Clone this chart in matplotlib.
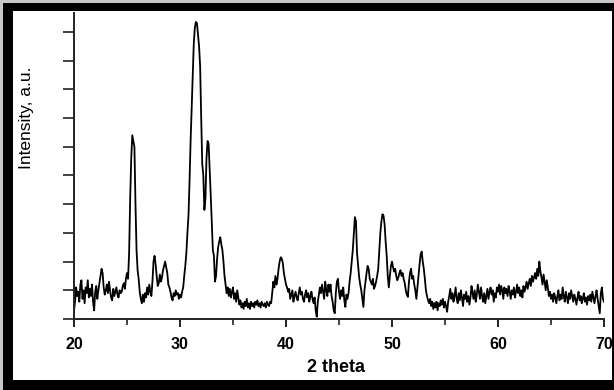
#! /usr/bin/env python3

import numpy as np
import matplotlib.pyplot as plt
from matplotlib.patches import Rectangle


# XRD pattern, intensity every 0.1 degree from 20 to 70.
intensity = [
    30, 60, 110, 80, 95, 60, 120, 135, 70, 100,            # 20.0
    55, 110, 90, 135, 75, 105, 80, 120, 60, 30,            # 21.0
    95, 115, 70, 100, 125, 150, 175, 160, 110, 85,         # 22.0
    100, 120, 90, 130, 100, 75, 65, 105, 80, 95,           # 23.0
    110, 85, 75, 100, 90, 95, 115, 125, 105, 140,          # 24.0
    160, 140, 230, 420, 560, 640, 620, 600, 400, 240,      # 25.0
    170, 140, 95, 70, 55, 85, 60, 90, 75, 110,             # 26.0
    85, 120, 95, 80, 130, 200, 220, 190, 150, 115,         # 27.0
    125, 155, 130, 145, 170, 185, 200, 180, 160, 120,      # 28.0
    110, 95, 75, 65, 90, 80, 100, 85, 90, 70,              # 29.0
    85, 75, 95, 110, 150, 185, 230, 300, 360, 480,         # 30.0
    620, 730, 850, 960, 1015, 1035, 1030, 990, 950, 880,   # 31.0
    700, 540, 500, 380, 420, 560, 620, 610, 520, 430,      # 32.0
    330, 240, 220, 130, 150, 210, 250, 270, 285, 260,      # 33.0
    240, 200, 150, 120, 90, 110, 80, 105, 75, 95,          # 34.0
    110, 70, 90, 60, 100, 75, 50, 65, 40, 55,              # 35.0
    35, 60, 45, 70, 40, 55, 35, 60, 45, 55,                # 36.0
    40, 60, 50, 65, 45, 55, 40, 60, 50, 45,                # 37.0
    55, 40, 60, 50, 45, 60, 55, 90, 130, 110,              # 38.0
    150, 120, 140, 175, 200, 215, 210, 195, 160, 140,      # 39.0
    120, 110, 95, 105, 70, 85, 100, 60, 80, 95,            # 40.0
    75, 65, 90, 110, 85, 95, 70, 60, 85, 100,              # 41.0
    75, 90, 60, 80, 95, 70, 55, 75, 30, 8,                 # 42.0
    60, 85, 110, 90, 120, 95, 70, 130, 100, 80,            # 43.0
    120, 95, 120, 80, 60, 30, 20, 90, 130, 140,            # 44.0
    95, 70, 100, 80, 110, 65, 42, 85, 70, 90,              # 45.0
    130, 160, 200, 240, 300, 355, 340, 230, 190, 146,      # 46.0
    120, 100, 70, 42, 100, 130, 160, 185, 175, 140,        # 47.0
    130, 120, 140, 105, 115, 130, 150, 175, 240, 300,      # 48.0
    340, 365, 360, 330, 270, 220, 150, 110, 150, 185,      # 49.0
    200, 180, 165, 175, 150, 135, 145, 160, 170, 150,      # 50.0
    160, 140, 125, 100, 85, 77, 130, 160, 175, 140,        # 51.0
    150, 120, 100, 70, 110, 150, 190, 225, 235, 200,       # 52.0
    175, 140, 100, 80, 65, 55, 70, 45, 60, 35,             # 53.0
    55, 40, 60, 30, 55, 45, 65, 50, 70, 40,                # 54.0
    60, 45, 25, 60, 80, 105, 70, 90, 60, 80,               # 55.0
    110, 70, 55, 90, 65, 100, 75, 45, 85, 70,              # 56.0
    95, 60, 80, 50, 75, 115, 90, 70, 100, 60,              # 57.0
    85, 120, 95, 70, 110, 80, 60, 90, 55, 80,              # 58.0
    105, 70, 95, 110, 85, 100, 60, 90, 75, 110,            # 59.0
    95, 120, 85, 115, 100, 70, 110, 90, 105, 80,           # 60.0
    115, 95, 70, 100, 85, 110, 75, 95, 120, 90,            # 61.0
    110, 80, 100, 75, 115, 95, 110, 130, 105, 125,         # 62.0
    140, 115, 150, 130, 145, 160, 140, 175, 150, 200,      # 63.0
    165, 145, 120, 155, 130, 100, 135, 110, 80, 95,        # 64.0
    70, 85, 60, 90, 75, 55, 80, 100, 65, 85,               # 65.0
    70, 110, 80, 60, 95, 75, 55, 90, 70, 100,              # 66.0
    80, 60, 85, 70, 50, 75, 95, 65, 80, 55,                # 67.0
    70, 90, 60, 75, 50, 80, 65, 85, 60, 95,                # 68.0
    75, 55, 80, 100, 70, 45, 20, 90, 110, 70,              # 69.0
    60,                                                    # 70.0
]
two_theta = np.linspace(20, 70, len(intensity))

x_major = [20, 30, 40, 50, 60, 70]
x_minor = [25, 35, 45, 55, 65]
y_ticks = [0, 100, 200, 300, 400, 500, 600, 700, 800, 900, 1000]


fig = plt.figure(figsize=(6.14, 3.90), dpi=100, facecolor="#c8c8c8")

# Black frame with white panel, like the scanned figure.
fig.add_artist(Rectangle((3 / 614, 0), 611 / 614, 387 / 390,
                         transform=fig.transFigure, facecolor="black",
                         edgecolor="none", zorder=-3))
fig.add_artist(Rectangle((13 / 614, 10 / 390), 599 / 614, 369 / 390,
                         transform=fig.transFigure, facecolor="white",
                         edgecolor="none", zorder=-2))

ax = fig.add_axes([74 / 614, 71 / 390, 530 / 614, 306 / 390])
ax.set_facecolor("none")
ax.plot(two_theta, intensity, color="black", lw=1.3)

ax.set_xlim(20, 70)
ax.set_ylim(0, 1066)
ax.set_xticks(x_major)
ax.set_xticks(x_minor, minor=True)
ax.set_yticks(y_ticks)
ax.set_yticklabels([])

for side in ["top", "right"]:
    ax.spines[side].set_visible(False)
for side in ["left", "bottom"]:
    ax.spines[side].set_linewidth(1.4)
    ax.spines[side].set_color("#222222")

ax.tick_params(axis="x", which="major", direction="out", length=6,
               width=1.4, color="#222222", pad=7)
ax.tick_params(axis="x", which="minor", direction="out", length=4,
               width=1.2, color="#222222")
ax.tick_params(axis="y", direction="out", length=8, width=1.2,
               color="#222222")
for lab in ax.get_xticklabels():
    lab.set_fontfamily("Liberation Sans")
    lab.set_fontweight("bold")
    lab.set_fontsize(11.5)

fig.text(336 / 614, 1 - 368 / 390, "2 theta", ha="center", va="center",
         fontsize=13, fontweight="bold", family="Liberation Sans")
fig.text(27 / 614, 1 - 118 / 390, "Intensity, a.u.", ha="center",
         va="center", rotation=90, fontsize=12.5, family="Liberation Sans")

fig.savefig("out.png", dpi=100, facecolor=fig.get_facecolor())
